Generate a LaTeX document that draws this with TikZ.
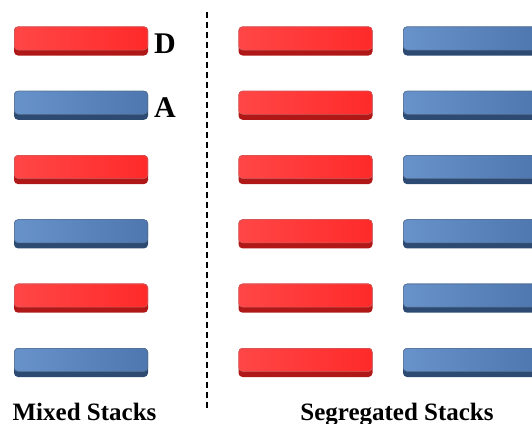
\documentclass[tikz,border=0pt]{standalone}
\usepackage{fontspec}
\IfFontExistsTF{LiberationSerif-Bold.ttf}
  {\newfontfamily\tnr{LiberationSerif}[Extension=.ttf, UprightFont=*-Regular, BoldFont=*-Bold]}
  {\newfontfamily\tnr{Liberation Serif}}
\definecolor{redL}{HTML}{FF4646}
\definecolor{redR}{HTML}{FF2A2A}
\definecolor{redD}{HTML}{B01818}
\definecolor{bluL}{HTML}{6892CA}
\definecolor{bluR}{HTML}{4D77AE}
\definecolor{bluD}{HTML}{2C4A72}
\tikzset{
  bar/.style={rectangle, rounded corners=4pt, minimum width=134pt, minimum height=29pt, inner sep=0pt},
  redbar/.style={bar, fill=redD, path picture={
    \shade[left color=redL, right color=redR, rounded corners=4pt]
      (path picture bounding box.north west) rectangle ([yshift=5.5pt]path picture bounding box.south east);
    \draw[redD!70, line width=0.5pt, rounded corners=4pt]
      ([shift={(0.3pt,-0.3pt)}]path picture bounding box.north west) rectangle ([shift={(-0.3pt,5.5pt)}]path picture bounding box.south east);}},
  blubar/.style={bar, fill=bluD, path picture={
    \shade[left color=bluL, right color=bluR, rounded corners=4pt]
      (path picture bounding box.north west) rectangle ([yshift=5.5pt]path picture bounding box.south east);
    \draw[bluD!80, line width=0.5pt, rounded corners=4pt]
      ([shift={(0.3pt,-0.3pt)}]path picture bounding box.north west) rectangle ([shift={(-0.3pt,5.5pt)}]path picture bounding box.south east);}},
  lbl/.style={inner sep=0pt, font=\tnr\bfseries\fontsize{30}{34}\selectfont, anchor=base west},
  captxt/.style={inner sep=0pt, font=\tnr\bfseries\fontsize{25}{30}\selectfont, anchor=base},
  sepline/.style={dash pattern=on 6pt off 4pt, line width=1.2pt}
}
\begin{document}
\begin{tikzpicture}[x=1pt, y=-1pt]
\clip (0,0) rectangle (532,423);
\useasboundingbox (0,0) rectangle (532,423);
% left column: mixed
\node[redbar] (l1) at (81,41) {};
\node[blubar] (l2) at (81,105.3) {};
\node[redbar] (l3) at (81,169.6) {};
\node[blubar] (l4) at (81,233.9) {};
\node[redbar] (l5) at (81,298.2) {};
\node[blubar] (l6) at (81,362.5) {};
% middle column: segregated red
\node[redbar] (m1) at (305.5,41) {};
\node[redbar] (m2) at (305.5,105.3) {};
\node[redbar] (m3) at (305.5,169.6) {};
\node[redbar] (m4) at (305.5,233.9) {};
\node[redbar] (m5) at (305.5,298.2) {};
\node[redbar] (m6) at (305.5,362.5) {};
% right column: segregated blue
\node[blubar] (r1) at (470,41) {};
\node[blubar] (r2) at (470,105.3) {};
\node[blubar] (r3) at (470,169.6) {};
\node[blubar] (r4) at (470,233.9) {};
\node[blubar] (r5) at (470,298.2) {};
\node[blubar] (r6) at (470,362.5) {};
% labels
\node[lbl] (d) at (154,53) {D};
\node[lbl] (a) at (154,117) {A};
% separator
\coordinate (st) at (207,12);
\coordinate (sb) at (207,408);
\draw[sepline] (st) -- (sb);
% captions
\node[captxt] (mx) at (84.5,420.5) {Mixed Stacks};
\node[captxt] (sg) at (397,420.5) {Segregated Stacks};
\end{tikzpicture}
\end{document}
